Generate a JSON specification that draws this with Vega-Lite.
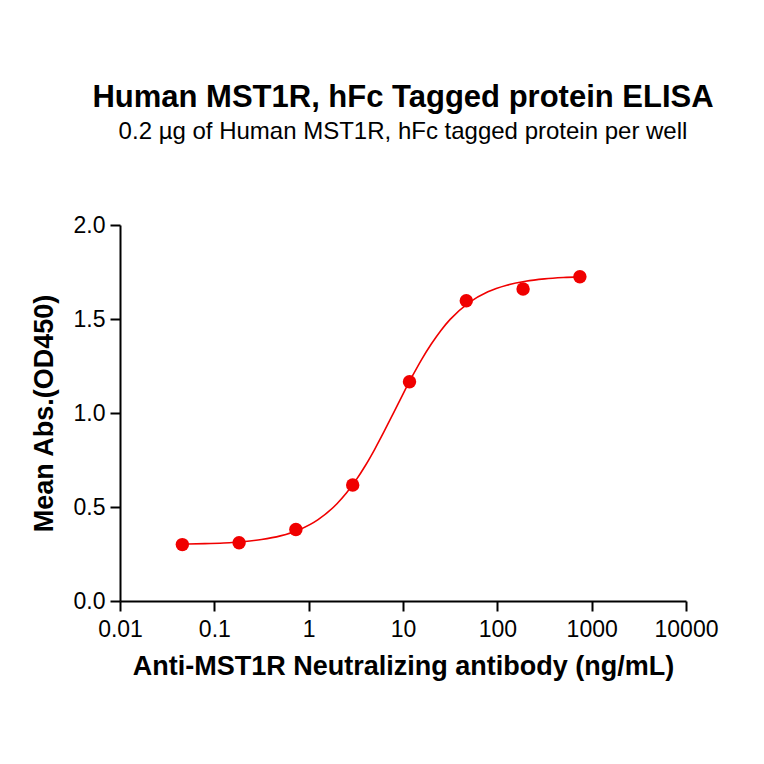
{
  "$schema": "https://vega.github.io/schema/vega-lite/v6.json",
  "background": "white",
  "autosize": "none",
  "padding": {"left": 120, "top": 225, "right": 78, "bottom": 163},
  "width": 566,
  "height": 376,
  "title": {
    "text": "Human MST1R, hFc Tagged protein ELISA",
    "subtitle": "0.2 µg of Human MST1R, hFc tagged protein per well",
    "anchor": "middle",
    "font": "Liberation Sans, Arial, sans-serif",
    "fontSize": 31,
    "fontWeight": "bold",
    "color": "black",
    "subtitleFont": "Liberation Sans, Arial, sans-serif",
    "subtitleFontSize": 24,
    "subtitleColor": "black",
    "subtitlePadding": 6,
    "offset": 69
  },
  "datasets": {
    "points": [
      {"conc": 0.0458, "od": 0.30},
      {"conc": 0.183, "od": 0.31},
      {"conc": 0.732, "od": 0.38},
      {"conc": 2.93, "od": 0.617},
      {"conc": 11.72, "od": 1.166},
      {"conc": 46.88, "od": 1.597},
      {"conc": 187.5, "od": 1.66},
      {"conc": 750, "od": 1.725}
    ],
    "curve": [
      {"conc": 0.0457, "od": 0.3026},
      {"conc": 0.0794, "od": 0.3051},
      {"conc": 0.1259, "od": 0.3089},
      {"conc": 0.1995, "od": 0.3154},
      {"conc": 0.3162, "od": 0.3268},
      {"conc": 0.5012, "od": 0.3463},
      {"conc": 0.7943, "od": 0.3791},
      {"conc": 1.259, "od": 0.4328},
      {"conc": 1.995, "od": 0.5174},
      {"conc": 2.512, "od": 0.574},
      {"conc": 3.162, "od": 0.6415},
      {"conc": 3.981, "od": 0.7194},
      {"conc": 5.012, "od": 0.807},
      {"conc": 6.31, "od": 0.9019},
      {"conc": 7.943, "od": 1.0007},
      {"conc": 10, "od": 1.1008},
      {"conc": 12.59, "od": 1.197},
      {"conc": 15.85, "od": 1.287},
      {"conc": 19.95, "od": 1.367},
      {"conc": 25.12, "od": 1.438},
      {"conc": 31.62, "od": 1.4978},
      {"conc": 50.12, "od": 1.5874},
      {"conc": 79.43, "od": 1.645},
      {"conc": 125.9, "od": 1.68},
      {"conc": 199.5, "od": 1.701},
      {"conc": 316.2, "od": 1.7133},
      {"conc": 501.2, "od": 1.7204},
      {"conc": 750, "od": 1.7241}
    ]
  },
  "encoding": {
    "x": {
      "field": "conc",
      "type": "quantitative",
      "scale": {"type": "log", "domain": [0.01, 10000]},
      "axis": {
        "title": "Anti-MST1R Neutralizing antibody (ng/mL)",
        "values": [0.01, 0.1, 1, 10, 100, 1000, 10000],
        "format": "~g"
      }
    },
    "y": {
      "field": "od",
      "type": "quantitative",
      "scale": {"domain": [0, 2], "nice": false, "zero": true},
      "axis": {
        "title": "Mean Abs.(OD450)",
        "values": [0, 0.5, 1, 1.5, 2],
        "format": ".1f"
      }
    }
  },
  "layer": [
    {
      "data": {"name": "curve"},
      "mark": {"type": "line", "color": "#f00000", "strokeWidth": 1.6, "interpolate": "monotone"}
    },
    {
      "data": {"name": "points"},
      "mark": {"type": "point", "filled": true, "shape": "circle", "size": 180, "color": "#f00000", "opacity": 1}
    }
  ],
  "config": {
    "view": {"stroke": null},
    "axis": {
      "grid": false,
      "domainColor": "black",
      "domainWidth": 2,
      "tickColor": "black",
      "tickWidth": 2,
      "tickSize": 10,
      "labelFont": "Liberation Sans, Arial, sans-serif",
      "labelFontSize": 23,
      "labelColor": "black",
      "titleFont": "Liberation Sans, Arial, sans-serif",
      "titleFontSize": 27,
      "titleFontWeight": "bold",
      "titleColor": "black"
    },
    "axisX": {"titlePadding": 12, "labelPadding": 7, "labelFlush": false},
    "axisY": {"titlePadding": 15, "labelPadding": 5}
  }
}
